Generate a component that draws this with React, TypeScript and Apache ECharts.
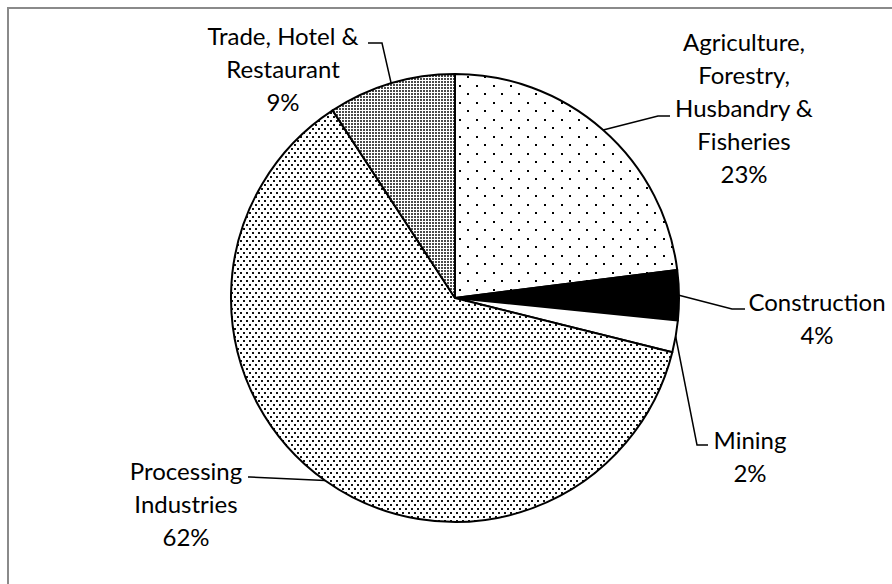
import React, { useEffect, useRef } from "react";
import * as echarts from "echarts";

// ---- data ----
const sectors: string[] = [
  "Agriculture,\nForestry,\nHusbandry &\nFisheries",
  "Construction",
  "Mining",
  "Processing\nIndustries",
  "Trade, Hotel &\nRestaurant",
];
const shares: number[] = [23.0, 3.6, 2.3, 61.9, 9.2];

// ---- label layout (label block centre, leader elbow and end) ----
const labelCentres: number[][] = [
  [744, 107],
  [817, 318],
  [750, 456],
  [186, 503],
  [283, 68],
];
const leaderElbows: number[][] = [
  [658, 116],
  [732, 309],
  [697, 445],
  [250, 477],
  [382, 43],
];
const leaderEnds: number[][] = [
  [670, 116],
  [745, 309],
  [708, 445],
  [248, 477],
  [368, 43],
];

const CX = 455;
const CY = 298;
const R = 224;

function makePattern(w: number, h: number, dots: number[][], size: number, color: string) {
  const c = document.createElement("canvas");
  c.width = w;
  c.height = h;
  const ctx = c.getContext("2d")!;
  ctx.fillStyle = "#ffffff";
  ctx.fillRect(0, 0, w, h);
  ctx.fillStyle = color;
  dots.forEach(([x, y]) => ctx.fillRect(x, y, size, size));
  return { image: c.toDataURL(), repeat: "repeat", imageWidth: w, imageHeight: h } as any;
}

export default function App() {
  const ref = useRef<HTMLDivElement>(null);
  useEffect(() => {
    if (!ref.current) return;
    const chart = echarts.init(ref.current, null, { renderer: "svg" });

    const sparse = makePattern(17, 17, [[0, 0], [8, 8]], 2, "#000");
    const medium = makePattern(6, 8, [[0, 0], [3, 4]], 2, "#111");
    const dense = makePattern(3, 3, [[0, 0]], 2, "#4a4a4a");
    const fills: any[] = [sparse, "#000000", "#ffffff", medium, dense];

    const total = shares.reduce((a, b) => a + b, 0);
    const starts: number[][] = [];
    let cum = 0;
    shares.forEach((v) => {
      const mid = ((cum + v / 2) / total) * Math.PI * 2;
      starts.push([CX + R * Math.sin(mid), CY - R * Math.cos(mid)]);
      cum += v;
    });

    chart.setOption({
      animation: false,
      backgroundColor: "#ffffff",
      graphic: [
        {
          type: "rect",
          shape: { x: 8, y: 8, width: 1000, height: 1000 },
          style: { fill: "none", stroke: "#8a8a8a", lineWidth: 2 },
          silent: true,
        },
      ],
      series: [
        {
          type: "pie",
          center: [CX, CY],
          radius: R,
          startAngle: 90,
          clockwise: true,
          percentPrecision: 0,
          avoidLabelOverlap: false,
          itemStyle: { borderColor: "#000", borderWidth: 2 },
          label: {
            show: true,
            formatter: "{b}\n{d}%",
            fontFamily: "Lato, 'Open Sans', sans-serif",
            fontSize: 24,
            lineHeight: 33,
            color: "#000",
            align: "center",
          },
          labelLine: { show: true, lineStyle: { color: "#000", width: 1.5 } },
          labelLayout: (p: any) => {
            const i = p.dataIndex;
            return {
              x: labelCentres[i][0],
              y: labelCentres[i][1],
              align: "center",
              verticalAlign: "middle",
              labelLinePoints: [starts[i], leaderElbows[i], leaderEnds[i]],
            };
          },
          data: sectors.map((name, i) => ({
            name,
            value: shares[i],
            itemStyle: { color: fills[i] },
          })),
        },
      ],
    });
    return () => chart.dispose();
  }, []);
  return (
    <div
      ref={ref}
      style={{ position: "absolute", left: 0, top: 0, width: 892, height: 584, background: "#fff" }}
    />
  );
}
